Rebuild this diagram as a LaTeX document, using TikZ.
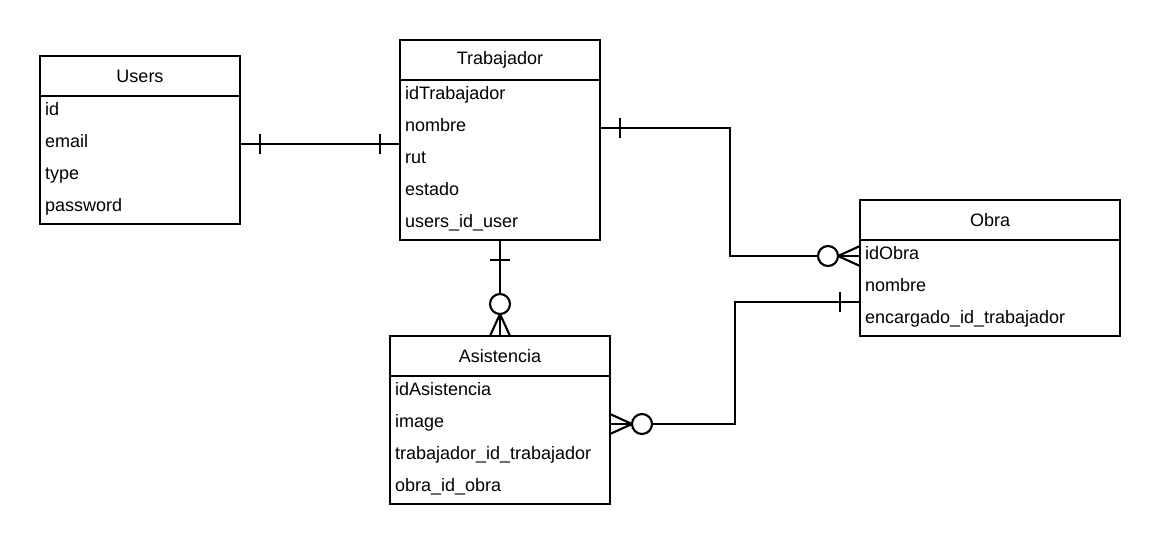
\documentclass[tikz,border=0pt]{standalone}
\usepackage{fontspec}
\setmainfont{Liberation Sans}
\usetikzlibrary{positioning,calc}

\begin{document}
\begin{tikzpicture}[x=0.75pt,y=-0.75pt,font=\fontsize{13.5}{16}\selectfont,
  line width=1.6pt,
  head/.style={draw,minimum width=#1,minimum height=30pt,inner sep=0pt,outer sep=0pt,anchor=north west},
  body/.style={draw,minimum width=#1,inner sep=0pt,outer sep=0pt},
  field/.style={anchor=base west,inner xsep=3pt,inner ysep=0pt}]
  \useasboundingbox (0,0) rectangle (1160,544);

  % tables
  \node[head=150pt] (users) at (40,56) {Users};
  \node[body=150pt,minimum height=96pt,below=0pt of users] (usersb) {};
  \foreach \f [count=\i from 0] in {id,email,type,password}
    \node[field] (users-\i) at ($(usersb.north west)+(0,19+32*\i)$) {\f};

  \node[head=150pt] (trab) at (400,40) {Trabajador};
  \node[body=150pt,minimum height=120pt,below=0pt of trab] (trabb) {};
  \foreach \f [count=\i from 0] in {idTrabajador,nombre,rut,estado,users\_id\_user}
    \node[field] (trab-\i) at ($(trabb.north west)+(0,19+32*\i)$) {\f};

  \node[head=195pt] (obra) at (860,200) {Obra};
  \node[body=195pt,minimum height=72pt,below=0pt of obra] (obrab) {};
  \foreach \f [count=\i from 0] in {idObra,nombre,encargado\_id\_trabajador}
    \node[field] (obra-\i) at ($(obrab.north west)+(0,19+32*\i)$) {\f};

  \node[head=165pt] (asist) at (390,336) {Asistencia};
  \node[body=165pt,minimum height=96pt,below=0pt of asist] (asistb) {};
  \foreach \f [count=\i from 0] in {idAsistencia,image,trabajador\_id\_trabajador,obra\_id\_obra}
    \node[field] (asist-\i) at ($(asistb.north west)+(0,19+32*\i)$) {\f};

  % Users -- Trabajador
  \coordinate (u1) at ($(usersb.north east)+(0,48)$);
  \coordinate (t1) at (u1 -| trabb.west);
  \draw (u1) -- (t1);
  \draw ($(u1)+(20,-10)$) -- ++(0,20);
  \draw ($(t1)+(-20,-10)$) -- ++(0,20);

  % Trabajador -- Obra
  \coordinate (t2) at ($(trabb.north east)+(0,48)$);
  \coordinate (o1) at ($(obrab.north west)+(0,16)$);
  \draw (t2) -| ($(t2)!.5!(o1)$) |- (o1);
  \draw ($(t2)+(20,-10)$) -- ++(0,20);
  \draw ($(o1)+(0,-10)$) -- ($(o1)+(-22,0)$) -- ($(o1)+(0,10)$);
  \draw[fill=white] ($(o1)+(-32,0)$) circle[radius=10];

  % Trabajador -- Asistencia
  \coordinate (t3) at (trabb.south);
  \coordinate (a1) at (asist.north);
  \draw (t3) -- (a1);
  \draw ($(t3)+(-10,20)$) -- ++(20,0);
  \draw ($(a1)+(-10,0)$) -- ($(a1)+(0,-22)$) -- ($(a1)+(10,0)$);
  \draw[fill=white] ($(a1)+(0,-32)$) circle[radius=10];

  % Asistencia -- Obra
  \coordinate (a2) at ($(asistb.north east)+(0,48)$);
  \coordinate (o2) at ($(obrab.north west)+(0,62)$);
  \draw (a2) -| ($(a2)!.5!(o2)$) |- (o2);
  \draw ($(o2)+(-20,-10)$) -- ++(0,20);
  \draw ($(a2)+(0,-10)$) -- ($(a2)+(22,0)$) -- ($(a2)+(0,10)$);
  \draw[fill=white] ($(a2)+(32,0)$) circle[radius=10];
\end{tikzpicture}
\end{document}
